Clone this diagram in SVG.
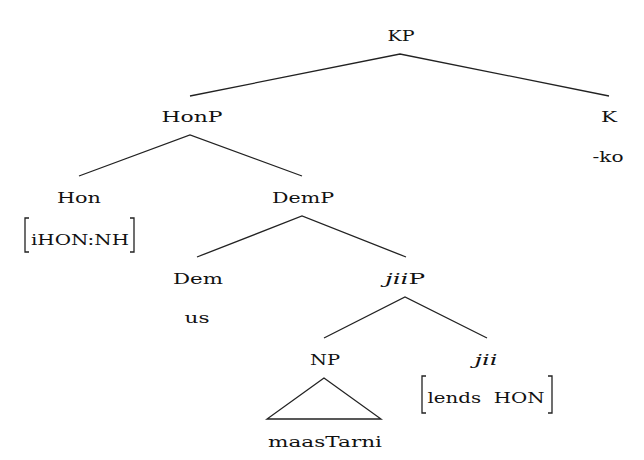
<svg xmlns="http://www.w3.org/2000/svg" width="644" height="460" viewBox="0 0 644 460">
<style>
text{font-family:"DejaVu Serif","Liberation Serif",serif;font-size:15px;fill:#111;text-anchor:middle}
.it{font-style:italic}
line,path,polyline{stroke:#222;stroke-width:1.3;fill:none}
</style>
<rect width="644" height="460" fill="#fff"/>
<g id="connectors">
<polyline points="190,96 400,54 609,96"/>
<polyline points="79,176 190,135 302,176"/>
<polyline points="197,257 302,216 406,257"/>
<polyline points="324,338 405,297 487,338"/>
<path d="M324,378 L267,419 L381,419 Z"/>
</g>
<g id="KP"><text x="401" y="41" textLength="27" lengthAdjust="spacingAndGlyphs">KP</text></g>
<g id="HonP"><text x="192" y="122" textLength="61" lengthAdjust="spacingAndGlyphs">HonP</text></g>
<g id="K"><text x="609" y="122" textLength="16" lengthAdjust="spacingAndGlyphs">K</text><text x="608" y="162" textLength="31" lengthAdjust="spacingAndGlyphs">-ko</text></g>
<g id="Hon"><text x="79" y="203" textLength="44" lengthAdjust="spacingAndGlyphs">Hon</text>
<path d="M29,218 H25 V252 H29 M130,218 H134 V252 H130"/>
<text x="80" y="245" textLength="98" lengthAdjust="spacingAndGlyphs">iHON:NH</text></g>
<g id="DemP"><text x="303" y="203" textLength="62" lengthAdjust="spacingAndGlyphs">DemP</text></g>
<g id="Dem"><text x="198" y="284" textLength="50" lengthAdjust="spacingAndGlyphs">Dem</text><text x="197" y="323" textLength="25" lengthAdjust="spacingAndGlyphs">us</text></g>
<g id="jiiP"><text x="405" y="284" textLength="40" lengthAdjust="spacingAndGlyphs"><tspan class="it">jii</tspan>P</text></g>
<g id="NP"><text x="325" y="365" textLength="30" lengthAdjust="spacingAndGlyphs">NP</text><text x="325" y="447" textLength="114" lengthAdjust="spacingAndGlyphs">maasTarni</text></g>
<g id="jii"><text class="it" x="486" y="365" textLength="23" lengthAdjust="spacingAndGlyphs">jii</text>
<path d="M426,376 H422 V413 H426 M548,376 H552 V413 H548"/>
<text x="486" y="403" textLength="117" lengthAdjust="spacingAndGlyphs">lends&#160;&#160;HON</text></g>
</svg>
